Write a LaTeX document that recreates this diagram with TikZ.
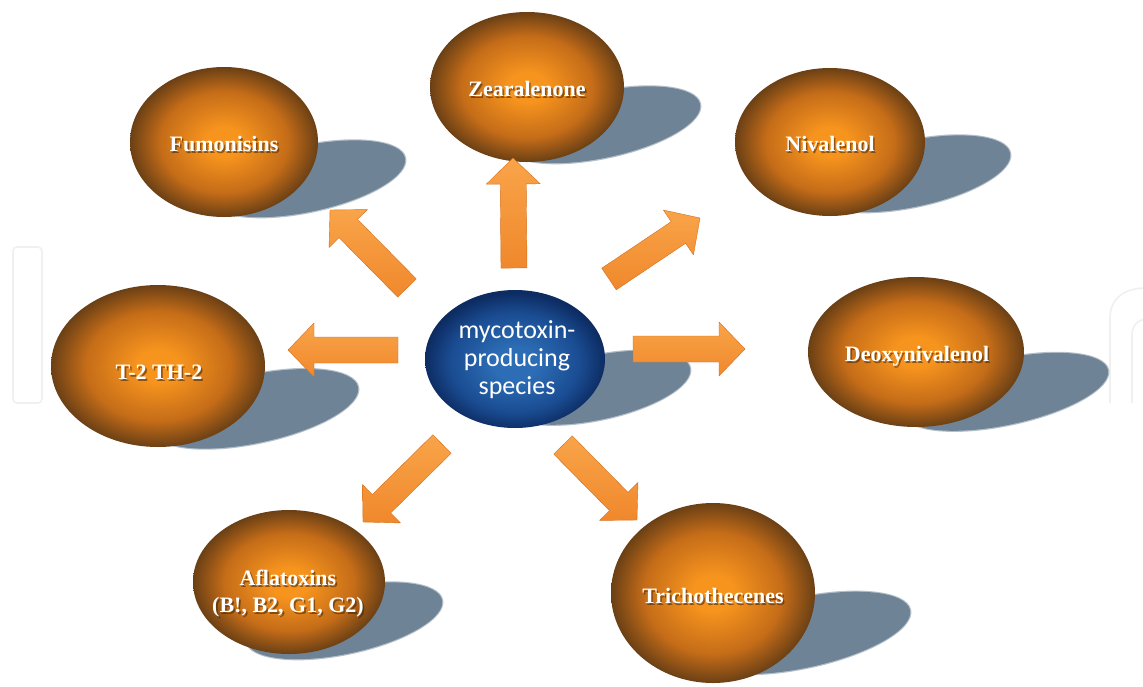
\documentclass[tikz,border=0pt]{standalone}
\usepackage{fontspec}
\setmainfont{Liberation Serif}
\newfontfamily\cfont{Carlito}
\usetikzlibrary{shapes.geometric,calc}
\definecolor{ballin}{HTML}{F7941E}
\definecolor{ballmid}{HTML}{C46C18}
\definecolor{ballout}{HTML}{6B4015}
\definecolor{bluein}{HTML}{2C6DB5}
\definecolor{bluemid}{HTML}{1A4C92}
\definecolor{blueout}{HTML}{0D2C62}
\definecolor{shadowc}{HTML}{6F8396}
\definecolor{arrtop}{HTML}{F9A449}
\definecolor{arrbot}{HTML}{F0882C}
\definecolor{arredge}{HTML}{D66F1C}
\definecolor{txtshadow}{HTML}{3E2206}
\definecolor{wmark}{HTML}{EEF0F1}
\pgfdeclareradialshading{brownball}{\pgfpoint{0bp}{0bp}}{color(0bp)=(ballin); color(5bp)=(ballin); color(17bp)=(ballmid); color(25bp)=(ballout); color(50bp)=(ballout)}
\pgfdeclareradialshading{blueball}{\pgfpoint{0bp}{-2bp}}{color(0bp)=(bluein); color(6bp)=(bluein); color(18bp)=(bluemid); color(25bp)=(blueout); color(50bp)=(blueout)}
\tikzset{
  ball/.style={ellipse, inner sep=0pt, shading=brownball},
  cball/.style={ellipse, inner sep=0pt, shading=blueball},
  shad/.style={fill=shadowc},
  shadsoft/.style={fill=shadowc, fill opacity=0.5},
  lbl/.style={text=white, font=\fontsize{22}{27}\selectfont\bfseries, align=center, inner sep=0pt},
  lblsh/.style={text=txtshadow, text opacity=0.55, font=\fontsize{22}{27}\selectfont\bfseries, align=center, inner sep=0pt},
  clbl/.style={text=white, font=\cfont\fontsize{26}{28}\selectfont, align=center, inner sep=0pt},
  blockarrow/.style={top color=arrtop, bottom color=arrbot, draw=arredge, line width=0.4pt, line join=round},
  wm/.style={draw=wmark, line width=1.6pt},
}
% shadow: right end (#1,#2), half axes #3,#4
\newcommand\castshadow[5]{%
  \coordinate (#5) at ({#1-#3*cos(12)},{#2+#3*sin(12)});
  \fill[shadsoft, rotate around={12:(#5)}] (#5) ellipse [x radius=#3+1.2, y radius=#4+1.2];
  \fill[shad, rotate around={12:(#5)}] (#5) ellipse [x radius=#3, y radius=#4];
}
\newcommand\lab[3]{%
  \node[lblsh] (#2s) at ($(#1)+(1.6,1.8)$) {#3};
  \node[lbl] (#2) at (#1) {#3};
}
\newcommand\barrow[2]{%
  \coordinate (#1b) at ($(#2)!26pt!(#1)$);
  \draw[blockarrow] ($(#1)!13pt!90:(#2)$) -- ($(#1b)!13pt!90:(#2)$) -- ($(#1b)!27pt!90:(#2)$) -- (#2)
     -- ($(#1b)!27pt!-90:(#2)$) -- ($(#1b)!13pt!-90:(#2)$) -- ($(#1)!13pt!-90:(#2)$) -- cycle;
}
\begin{document}
\begin{tikzpicture}[x=1pt,y=-1pt]
\useasboundingbox (0,0) rectangle (1143,686);
\fill[white] (0,0) rectangle (1143,686);
% faint watermark outlines
\draw[wm, rounded corners=4pt] (13,247) rectangle (42,403);
\draw[wm] (1110,403) -- (1110,318) .. controls (1110,298) and (1125,288) .. (1146,288);
\draw[wm] (1132,403) -- (1132,335) .. controls (1132,326) and (1137,320) .. (1146,319);
% shadows
\castshadow{405}{158}{100}{33}{sf}
\castshadow{700}{104}{100}{33}{sz}
\castshadow{1010}{153}{100}{33}{sn}
\castshadow{358}{387}{105}{34}{st}
\castshadow{1108}{370}{105}{33}{sd}
\castshadow{442}{600}{100}{33}{sa}
\castshadow{910}{610}{110}{35}{sr}
\castshadow{690}{368}{95}{32}{sc}
% balls
\node[ball, minimum width=188pt, minimum height=150pt] (fum) at (224,142) {};
\node[ball, minimum width=194pt, minimum height=150pt] (zea) at (527,87) {};
\node[ball, minimum width=190pt, minimum height=148pt] (niv) at (830,142) {};
\node[ball, minimum width=214pt, minimum height=162pt] (t2) at (158,366) {};
\node[ball, minimum width=216pt, minimum height=150pt] (deo) at (916,352) {};
\node[ball, minimum width=192pt, minimum height=144pt] (afl) at (289,582) {};
\node[ball, minimum width=204pt, minimum height=180pt] (tri) at (713,593) {};
\node[cball, minimum width=180pt, minimum height=138pt] (c) at (515,359) {};
% labels
\coordinate (pf) at (224,144);
\coordinate (pz) at (527,89);
\coordinate (pn) at (830,144);
\coordinate (pt) at (159,372);
\coordinate (pd) at (917,356);
\coordinate (pa) at (288,594);
\coordinate (pr) at (713,596);
\lab{pf}{lf}{Fumonisins}
\lab{pz}{lz}{Zearalenone}
\lab{pn}{ln}{Nivalenol}
\lab{pt}{lt}{T-2 TH-2}
\lab{pd}{ld}{Deoxynivalenol}
\lab{pa}{la}{Aflatoxins\\(B!, B2, G1, G2)}
\lab{pr}{lr}{Trichothecenes}
\node[clbl] (cl) at (517,360) {mycotoxin-\\producing\\species};
% arrows
\coordinate (az0) at (514,268); \coordinate (az1) at (513,158);
\coordinate (af0) at (407,288); \coordinate (af1) at (330,210);
\coordinate (an0) at (609,279); \coordinate (an1) at (700,218);
\coordinate (ad0) at (633,349); \coordinate (ad1) at (745,349);
\coordinate (at0) at (398,350); \coordinate (at1) at (288,350);
\coordinate (aa0) at (442,444); \coordinate (aa1) at (363,522);
\coordinate (ar0) at (563,445); \coordinate (ar1) at (637,520);
\barrow{az0}{az1}
\barrow{af0}{af1}
\barrow{an0}{an1}
\barrow{ad0}{ad1}
\barrow{at0}{at1}
\barrow{aa0}{aa1}
\barrow{ar0}{ar1}
\end{tikzpicture}
\end{document}
